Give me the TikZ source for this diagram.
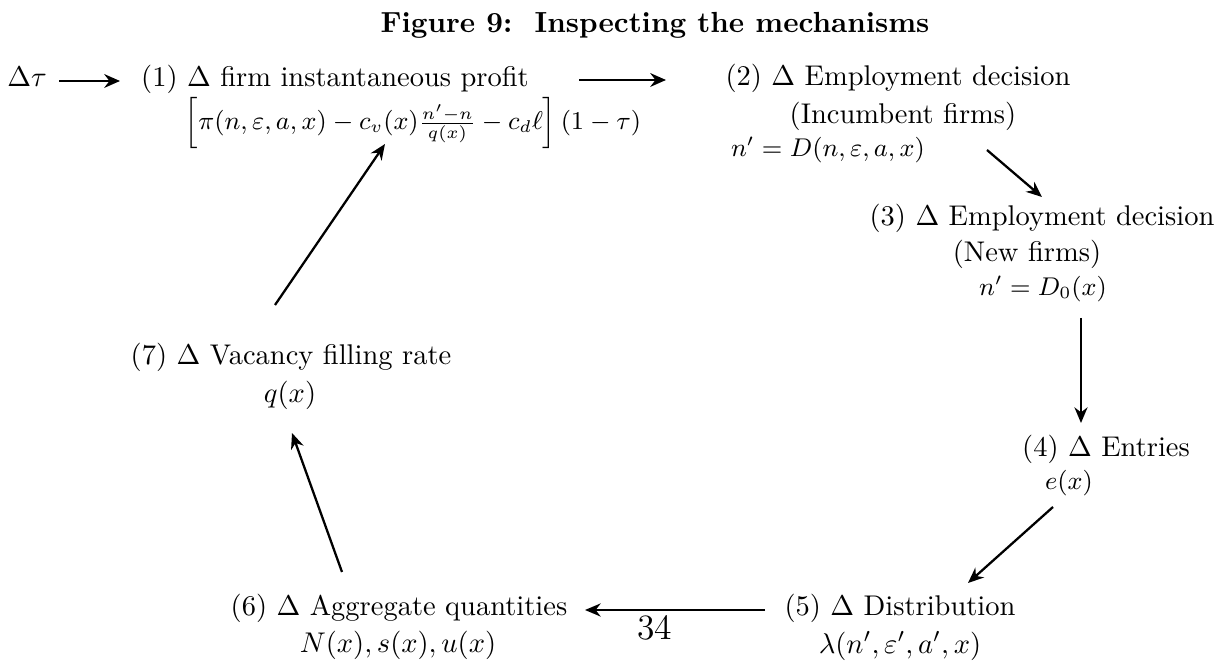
\documentclass[tikz,border=0pt]{standalone}
\usetikzlibrary{arrows.meta,calc}
\begin{document}
\begin{tikzpicture}[x=0.351pt,y=-0.351pt,
  txt/.style={inner sep=0pt, anchor=base, font=\fontsize{10}{12}\selectfont},
  mth/.style={inner sep=0pt, anchor=center, font=\fontsize{10}{12}\selectfont},
  smth/.style={inner sep=0pt, anchor=center, font=\fontsize{8.7}{10}\selectfont},
  arr/.style={line width=0.8pt, -{Stealth[length=5.5pt,width=4.6pt]}},
  harr/.style={line width=1pt, -{Stealth[length=5.5pt,width=4.8pt]}}]
\useasboundingbox (0,0) rectangle (1227,665);
\node[inner sep=0pt, anchor=center, font=\fontsize{10.2}{12}\selectfont\bfseries] (title) at (655,25) {Figure 9:\ \ Inspecting the mechanisms};
% step 1
\node[txt] (dtau) at (27,87) {$\Delta\tau$};
\node[txt] (n1) at (335,87) {(1) $\Delta$ firm instantaneous profit};
\node[smth] (f1) at (413,123) {$\Bigl[\pi(n,\varepsilon,a,x)-c_v(x)\frac{n'-n}{q(x)}-c_d\ell\Bigr]\,(1-\tau)$};
% step 2
\node[txt] (n2) at (898,86) {(2) $\Delta$ Employment decision};
\node[txt] (n2b) at (903,124) {(Incumbent firms)};
\node[smth] (f2) at (828,150) {$n'=D(n,\varepsilon,a,x)$};
% step 3
\node[txt] (n3) at (1042,226) {(3) $\Delta$ Employment decision};
\node[txt] (n3b) at (1027,262) {(New firms)};
\node[smth] (f3) at (1043,289) {$n'=D_0(x)$};
% step 4
\node[txt] (n4) at (1106,457) {(4) $\Delta$ Entries};
\node[smth] (f4) at (1069,483) {$e(x)$};
% step 5
\node[txt] (n5) at (900,616) {(5) $\Delta$ Distribution};
\node[mth] (f5) at (900,646) {$\lambda(n',\varepsilon',a',x)$};
% step 6
\node[txt] (n6) at (399,616) {(6) $\Delta$ Aggregate quantities};
\node[mth] (f6) at (398,645) {$N(x),s(x),u(x)$};
% step 7
\node[txt] (n7) at (291,365) {(7) $\Delta$ Vacancy filling rate};
\node[mth] (f7) at (290,395) {$q(x)$};
% page number
\node[inner sep=0pt, anchor=center, font=\fontsize{12.5}{14}\selectfont] (page) at (655,628) {34};
% connectors
\draw[harr] ($(dtau.base)+(32,-6)$) -- ($(n1.base)+(-215,-6)$);
\draw[harr] ($(n1.base)+(244,-7)$) -- ($(n2.base)+(-232,-6)$);
\draw[arr] ($(n2b.base)+(84,26)$) -- ($(n3.base)+(0,-29)$);
\draw[arr] ($(f3)+(38,29)$) -- ($(n4.base)+(-25,-34)$);
\draw[arr] ($(f4)+(-16,24)$) -- ($(n5.base)+(68,-33)$);
\draw[arr] ($(n5.base)+(-135,-6)$) -- ($(n6.base)+(186,-6)$);
\draw[arr] ($(n6.base)+(-57,-44)$) -- ($(f7)+(2,38)$);
\draw[arr] ($(n7.base)+(-16,-60)$) -- ($(f1)+(-28,21)$);
\end{tikzpicture}
\end{document}
